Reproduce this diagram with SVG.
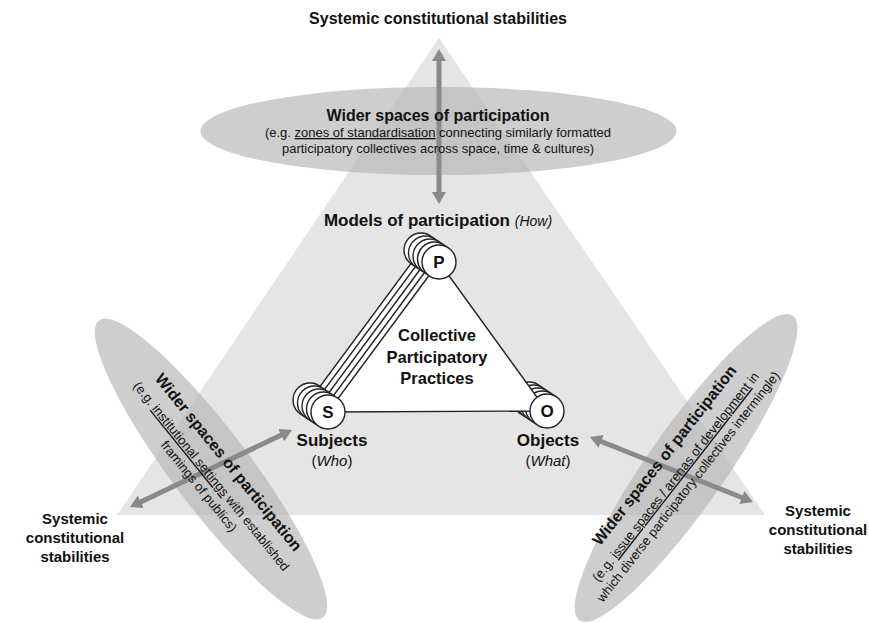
<svg xmlns="http://www.w3.org/2000/svg" width="869" height="623" viewBox="0 0 869 623">
<style>
text{font-family:"Liberation Sans",Arial,sans-serif;fill:#111}
.b{font-weight:bold}
.t16{font-size:16px}
.t13{font-size:13px}
.lab{font-size:15px;font-weight:bold}
.sp{fill:#b4b4b4;fill-opacity:0.65}
.arr{stroke:#8a8a8a;stroke-width:5;fill:none}
.tri{fill:#fff;stroke:#222;stroke-width:1.4}
.cir{fill:#fff;stroke:#222;stroke-width:1.4}
.let{font-size:17px;font-weight:bold}
</style>
<defs>
<marker id="ah" viewBox="0 0 12 14" refX="2" refY="7" markerWidth="12" markerHeight="14" orient="auto-start-reverse" markerUnits="userSpaceOnUse">
<path d="M0,0 L12,7 L0,14 Z" fill="#8a8a8a"/>
</marker>
<g id="stack">
<polygon class="tri" points="439,262 328,412 547,411"/>
<circle class="cir" cx="439" cy="262" r="17"/>
<circle class="cir" cx="328" cy="412" r="17"/>
<circle class="cir" cx="547" cy="411" r="17"/>
</g>
</defs>
<rect width="869" height="623" fill="#fff"/>
<polygon id="bigTriangle" points="439,38 117,515 765,515" fill="#e5e5e5"/>

<g id="topSpace">
<ellipse class="sp" cx="438.5" cy="131" rx="238" ry="44"/>
</g>
<g id="leftSpace">
<ellipse class="sp" cx="211" cy="469" rx="186" ry="39" transform="rotate(53 211 469)"/>
</g>
<g id="rightSpace">
<ellipse class="sp" cx="686" cy="468" rx="186" ry="39" transform="rotate(-55 686 468)"/>
</g>

<g id="connectors">
<line class="arr" x1="439" y1="59" x2="439" y2="194" marker-start="url(#ah)" marker-end="url(#ah)"/>
<line class="arr" x1="139" y1="502.7" x2="283" y2="434.3" marker-start="url(#ah)" marker-end="url(#ah)"/>
<line class="arr" x1="599.3" y1="440.7" x2="743.7" y2="498.3" marker-start="url(#ah)" marker-end="url(#ah)"/>
</g>

<g id="topLabels">
<text class="b t16" x="438" y="24" text-anchor="middle">Systemic constitutional stabilities</text>
<text class="b t16" x="438" y="121" text-anchor="middle">Wider spaces of participation</text>
<text class="t13" x="438" y="137" text-anchor="middle">(e.g. <tspan text-decoration="underline">zones of standardisation</tspan> connecting similarly formatted</text>
<text class="t13" x="438" y="153" text-anchor="middle">participatory collectives across space, time &amp; cultures)</text>
</g>

<g id="leftLabels" transform="translate(229,462) rotate(51)">
<text class="b t16" x="0" y="6" text-anchor="middle">Wider spaces of participation</text>
<text class="t13" x="0" y="27" text-anchor="middle">(e.g. <tspan text-decoration="underline">institutional settings</tspan> with established</text>
<text class="t13" x="0" y="43" text-anchor="middle">framings of publics)</text>
</g>

<g id="rightLabels" transform="translate(664,455) rotate(-52)">
<text class="b t16" x="0" y="6" text-anchor="middle">Wider spaces of participation</text>
<text class="t13" x="-10" y="27" text-anchor="middle">(e.g. <tspan text-decoration="underline">issue spaces / arenas of development</tspan> in</text>
<text class="t13" x="-10" y="43" text-anchor="middle">which diverse participatory collectives intermingle)</text>
</g>

<g id="leftStability">
<text class="lab" x="75" y="524" text-anchor="middle">Systemic</text>
<text class="lab" x="75" y="543" text-anchor="middle">constitutional</text>
<text class="lab" x="75" y="562" text-anchor="middle">stabilities</text>
</g>
<g id="rightStability">
<text class="lab" x="818" y="516" text-anchor="middle">Systemic</text>
<text class="lab" x="818" y="535" text-anchor="middle">constitutional</text>
<text class="lab" x="818" y="554" text-anchor="middle">stabilities</text>
</g>

<g id="models">
<text x="438" y="226" text-anchor="middle"><tspan class="b" font-size="17">Models of participation </tspan><tspan font-size="14" font-style="italic">(How)</tspan></text>
</g>

<g id="collectiveTriangle">
<use href="#stack" transform="translate(-18,-12)"/>
<use href="#stack" transform="translate(-13.5,-9)"/>
<use href="#stack" transform="translate(-9,-6)"/>
<use href="#stack" transform="translate(-4.5,-3)"/>
<use href="#stack"/>
<text class="b" font-size="16.5" x="437" y="341" text-anchor="middle">Collective</text>
<text class="b" font-size="16.5" x="437" y="363" text-anchor="middle">Participatory</text>
<text class="b" font-size="16.5" x="437" y="384" text-anchor="middle">Practices</text>
</g>
<g id="nodeP"><text class="let" x="439" y="268" text-anchor="middle">P</text></g>
<g id="nodeS">
<text class="let" x="328" y="418" text-anchor="middle">S</text>
<text class="b" font-size="17" x="332" y="446" text-anchor="middle">Subjects</text>
<text font-size="15" x="332" y="466" text-anchor="middle">(<tspan font-style="italic">Who</tspan>)</text>
</g>
<g id="nodeO">
<text class="let" x="547" y="417" text-anchor="middle">O</text>
<text class="b" font-size="17" x="548" y="446" text-anchor="middle">Objects</text>
<text font-size="15" x="548" y="466" text-anchor="middle">(<tspan font-style="italic">What</tspan>)</text>
</g>
</svg>
